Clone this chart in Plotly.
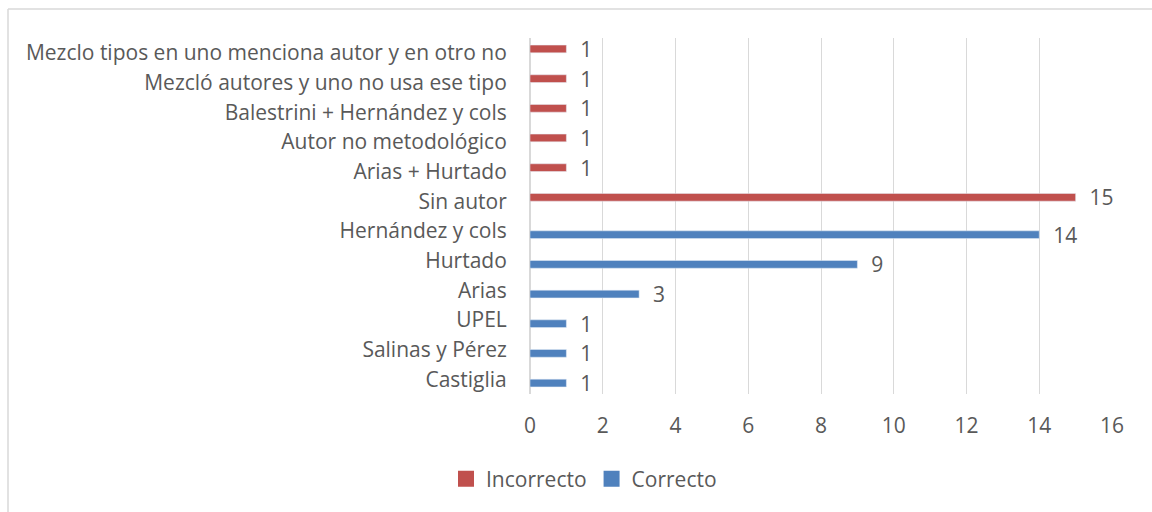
import plotly.graph_objects as go

categories = [
    "Castiglia",
    "Salinas y Pérez",
    "UPEL",
    "Arias",
    "Hurtado",
    "Hernández y cols",
    "Sin autor",
    "Arias + Hurtado",
    "Autor no metodológico",
    "Balestrini + Hernández y cols",
    "Mezcló autores y uno no usa ese tipo",
    "Mezclo tipos en uno menciona autor y en otro no",
]
correcto = [1, 1, 1, 3, 9, 14, None, None, None, None, None, None]
incorrecto = [None, None, None, None, None, None, 15, 1, 1, 1, 1, 1]
x_ticks = [0, 2, 4, 6, 8, 10, 12, 14, 16]

FONT = "Open Sans"
TXT = "#595959"
FS = 21
BLUE = "#4f81bd"
RED = "#c0504d"

def labels(vals):
    return ["  " + str(v) if v is not None else "" for v in vals]

fig = go.Figure()
fig.add_trace(go.Bar(
    y=categories, x=correcto, orientation="h", name="Correcto",
    marker=dict(color=BLUE), showlegend=False, legendgroup="c",
    text=labels(correcto), textposition="outside", cliponaxis=False,
    constraintext="none",
    textfont=dict(family=FONT, size=FS, color=TXT),
))
fig.add_trace(go.Bar(
    y=categories, x=incorrecto, orientation="h", name="Incorrecto",
    marker=dict(color=RED), showlegend=False, legendgroup="i",
    text=labels(incorrecto), textposition="outside", cliponaxis=False,
    constraintext="none",
    textfont=dict(family=FONT, size=FS, color=TXT),
))
# legend entries (square swatches)
fig.add_trace(go.Scatter(
    x=[None], y=[None], mode="markers", name="Incorrecto", legendgroup="i",
    marker=dict(symbol="square", size=16, color=RED),
))
fig.add_trace(go.Scatter(
    x=[None], y=[None], mode="markers", name="Correcto", legendgroup="c",
    marker=dict(symbol="square", size=16, color=BLUE),
))

W, H = 1152, 512
L, R, T, B = 530, 40, 38, 118
pw = W - L - R
ph = H - T - B

def px_x(fx):
    return (fx - L) / pw

def px_y(fy):
    return (H - B - fy) / ph

fig.update_layout(
    width=W, height=H,
    margin=dict(l=L, r=R, t=T, b=B, autoexpand=False),
    paper_bgcolor="white", plot_bgcolor="white",
    barmode="group", bargap=0.48, bargroupgap=0,
    font=dict(family=FONT, size=FS, color=TXT),
    showlegend=True,
    legend=dict(
        orientation="h", traceorder="normal",
        x=px_x(584), xanchor="center",
        y=px_y(479), yanchor="middle",
        font=dict(family=FONT, size=FS, color=TXT),
        itemwidth=30, itemsizing="trace",
    ),
    xaxis=dict(
        range=[0, 16], tickvals=x_ticks, showgrid=True, gridcolor="#d9d9d9",
        gridwidth=1, zeroline=True, zerolinecolor="#d9d9d9", showline=False,
        ticks="outside", ticklen=13, tickcolor="rgba(0,0,0,0)",
        tickfont=dict(family=FONT, size=FS, color=TXT),
    ),
    yaxis=dict(
        categoryorder="array", categoryarray=categories,
        showgrid=False, zeroline=False, showline=False,
        ticks="outside", ticklen=18, tickcolor="rgba(0,0,0,0)",
        tickfont=dict(family=FONT, size=FS, color=TXT),
    ),
    shapes=[
        dict(type="line", xref="paper", yref="paper",
             x0=px_x(8), x1=px_x(W), y0=px_y(9), y1=px_y(9),
             line=dict(color="#d9d9d9", width=1.5), layer="below"),
        dict(type="line", xref="paper", yref="paper",
             x0=px_x(8), x1=px_x(8), y0=px_y(9), y1=px_y(H),
             line=dict(color="#d9d9d9", width=1.5), layer="below"),
    ],
)

fig.write_html(
    "out.html",
    config={"displayModeBar": False},
    post_script="document.body.style.margin='0';"
                "document.documentElement.style.overflow='hidden';"
                "document.body.style.overflow='hidden';",
)
